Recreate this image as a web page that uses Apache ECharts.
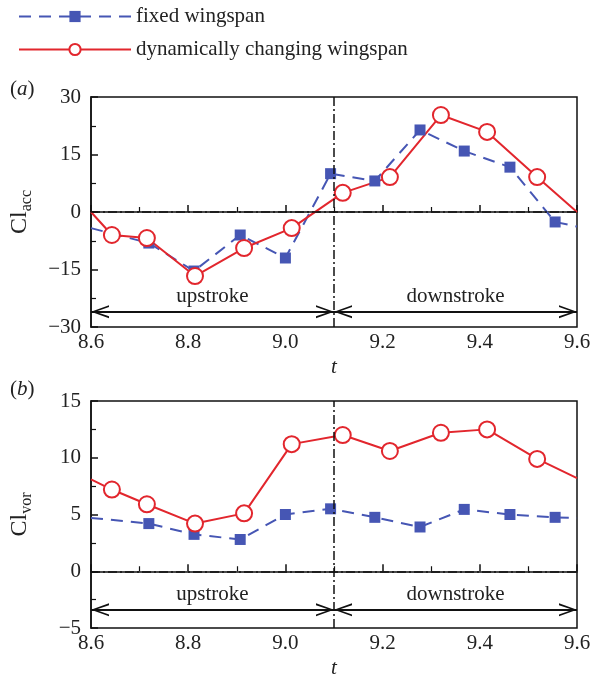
<!DOCTYPE html>
<html>
<head>
<meta charset="utf-8">
<script src="https://cdn.jsdelivr.net/npm/echarts@6/dist/echarts.min.js"></script>
<style>
	html, body { margin: 0; padding: 0; background: #fff; }
	#chart { width: 594px; height: 680px; }
</style>
</head>
<body>
<div id="chart"></div>
<script>
// sample times (first and last entries are the plot edges, drawn without markers)
var tFixed = [8.6, 8.719, 8.812, 8.907, 9.0, 9.093, 9.184, 9.277, 9.368, 9.462, 9.555, 9.6];
var tDyn = [8.6, 8.643, 8.715, 8.814, 8.915, 9.013, 9.118, 9.215, 9.320, 9.415, 9.518, 9.6];

// (a) Cl_acc
var accFixed = [-4.2, -8.1, -15.4, -6.0, -12.0, 10.0, 8.1, 21.4, 15.9, 11.7, -2.6, -3.8];
var accDyn = [0, -6.0, -6.8, -16.7, -9.4, -4.2, 5.0, 9.1, 25.3, 20.9, 9.1, 0];

// (b) Cl_vor
var vorFixed = [4.7, 4.2, 3.25, 2.8, 5.0, 5.5, 4.75, 3.9, 5.45, 5.0, 4.75, 4.7];
var vorDyn = [8.1, 7.2, 5.9, 4.2, 5.1, 11.2, 12.0, 10.6, 12.2, 12.5, 9.9, 8.2];

var strokeSplit = 9.1;
var tRange = [8.6, 9.6];
var arrowLevel = [-26, -3.4];
var strokeNames = ['upstroke', 'downstroke'];

var serif = '"Liberation Serif", "DejaVu Serif", serif';
var blue = '#4656b4';
var red = '#e2262d';
// chevron with its tip in the middle of the box, so the tip sits on the end point
var chevron = 'path://M10,-20 L10.01,-20 L10,-19.99 Z M0,20 L10,0 L20,20 L17,20 L10,5 L3,20 Z';

function pairs(t, v) {
	return t.map(function(x, i) {
		var d = { value: [x, v[i]] };
		if (i == 0 || i == t.length - 1) d.symbol = 'none';
		return d;
	});
}

function strokeMarks(level) {
	var dashDot = { color: '#111', width: 1.5, type: [9, 3, 2, 3] };
	var arrowLine = { color: '#111', width: 2, type: 'solid' };
	function arrow(a, b, name) {
		return [
			{ coord: [a, level], symbol: chevron, lineStyle: arrowLine,
				label: { show: true, position: 'middle', formatter: name, distance: 5,
					fontFamily: serif, fontSize: 21, color: '#222' } },
			{ coord: [b, level], symbol: chevron }
		];
	}
	return {
		silent: true,
		symbol: 'none',
		symbolSize: [13, 36],
		animation: false,
		label: { show: false },
		data: [
			{ xAxis: strokeSplit, lineStyle: dashDot },
			{ yAxis: 0, lineStyle: dashDot },
			arrow(tRange[0], strokeSplit, strokeNames[0]),
			arrow(strokeSplit, tRange[1], strokeNames[1])
		]
	};
}

function xAxis(idx) {
	return {
		type: 'value', gridIndex: idx, min: 8.6, max: 9.6, interval: 0.2,
		name: 't', nameLocation: 'middle', nameGap: 30,
		nameTextStyle: { fontFamily: serif, fontSize: 21, fontStyle: 'italic', color: '#222' },
		axisLine: { lineStyle: { color: '#111', width: 1.5 } },
		axisTick: { inside: true, length: 7, lineStyle: { color: '#111', width: 1.5 } },
		minorTick: { show: true, splitNumber: 2, length: 5, lineStyle: { color: '#111', width: 1.2 } },
		splitLine: { show: false },
		axisLabel: { margin: 5, fontFamily: serif, fontSize: 21, color: '#222',
			formatter: function(v) { return v.toFixed(1); } }
	};
}

function yAxis(idx, min, max, step, sub) {
	return {
		type: 'value', gridIndex: idx, min: min, max: max, interval: step,
		name: '{a|Cl}{b|' + sub + '}', nameLocation: 'middle', nameGap: 56,
		nameTextStyle: {
			rich: {
				a: { fontFamily: serif, fontSize: 24, color: '#222', lineHeight: 30 },
				b: { fontFamily: serif, fontSize: 16, color: '#222', lineHeight: 30, verticalAlign: 'bottom' }
			}
		},
		axisLine: { lineStyle: { color: '#111', width: 1.5 } },
		axisTick: { inside: true, length: 7, lineStyle: { color: '#111', width: 1.5 } },
		minorTick: { show: true, splitNumber: 2, length: 5, lineStyle: { color: '#111', width: 1.2 } },
		splitLine: { show: false },
		axisLabel: { margin: 10, fontFamily: serif, fontSize: 21, color: '#222',
			formatter: function(v) { return String(v).replace('-', '\u2212'); } }
	};
}

function fixedSeries(idx, v) {
	return {
		name: 'fixed wingspan', type: 'line', xAxisIndex: idx, yAxisIndex: idx,
		data: pairs(tFixed, v),
		symbol: 'rect', symbolSize: 11,
		lineStyle: { color: blue, width: 2, type: [12, 8] },
		itemStyle: { color: blue },
		animation: false,
		markLine: strokeMarks(arrowLevel[idx])
	};
}

function dynSeries(idx, v) {
	return {
		name: 'dynamically changing wingspan', type: 'line', xAxisIndex: idx, yAxisIndex: idx,
		data: pairs(tDyn, v),
		symbol: 'emptyCircle', symbolSize: 16,
		lineStyle: { color: red, width: 2 },
		itemStyle: { color: red, borderColor: red, borderWidth: 1.6 },
		animation: false
	};
}

var titleStyle = { fontFamily: serif, fontSize: 21, fontWeight: 'normal', color: '#222',
	rich: { i: { fontFamily: serif, fontSize: 21, fontStyle: 'italic', color: '#222' } } };

var chart = echarts.init(document.getElementById('chart'));
chart.setOption({
	backgroundColor: '#fff',
	title: [
		{ text: '({i|a})', left: 5, top: 74, textStyle: titleStyle },
		{ text: '({i|b})', left: 5, top: 374, textStyle: titleStyle }
	],
	legend: {
		orient: 'vertical', left: 13, top: 1, itemWidth: 112, itemHeight: 14, itemGap: 12,
		data: ['fixed wingspan', 'dynamically changing wingspan'],
		textStyle: { fontFamily: serif, fontSize: 21, color: '#222' }
	},
	grid: [
		{ left: 91, right: 17, top: 97, height: 230, show: true, borderColor: '#111', borderWidth: 1.5 },
		{ left: 91, right: 17, top: 401, height: 227, show: true, borderColor: '#111', borderWidth: 1.5 }
	],
	xAxis: [xAxis(0), xAxis(1)],
	yAxis: [yAxis(0, -30, 30, 15, 'acc'), yAxis(1, -5, 15, 5, 'vor')],
	series: [
		fixedSeries(0, accFixed),
		dynSeries(0, accDyn),
		fixedSeries(1, vorFixed),
		dynSeries(1, vorDyn)
	]
});
</script>
</body>
</html>
